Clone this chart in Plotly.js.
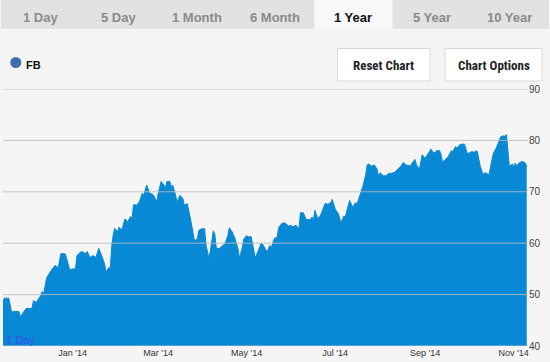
<!DOCTYPE html>
<html><head><meta charset="utf-8">
<script src="https://cdn.plot.ly/plotly-3.0.1.min.js"></script>
<style>html,body{margin:0;padding:0;background:#f5f5f5;}#chart{width:550px;height:362px;}</style>
</head><body><div id="chart"></div>
<script>
const seriesName = "FB";
const dates = [
"2013-11-14","2013-11-15","2013-11-18","2013-11-20","2013-11-21","2013-11-25","2013-11-26","2013-11-28","2013-11-30",
"2013-12-04","2013-12-05","2013-12-07","2013-12-10","2013-12-11","2013-12-12","2013-12-14","2013-12-15","2013-12-18","2013-12-20","2013-12-22","2013-12-24","2013-12-27","2013-12-28","2013-12-30",
"2014-01-01","2014-01-03","2014-01-04","2014-01-07","2014-01-10","2014-01-11","2014-01-13","2014-01-15","2014-01-17","2014-01-19","2014-01-21","2014-01-23","2014-01-24","2014-01-26","2014-01-27","2014-01-28","2014-01-29","2014-01-30",
"2014-02-01","2014-02-02","2014-02-04","2014-02-06","2014-02-08","2014-02-10","2014-02-11","2014-02-12","2014-02-14","2014-02-16","2014-02-18","2014-02-19","2014-02-21","2014-02-22","2014-02-23","2014-02-26","2014-02-28",
"2014-03-01","2014-03-03","2014-03-05","2014-03-06","2014-03-07","2014-03-09","2014-03-10","2014-03-11","2014-03-13","2014-03-14","2014-03-16","2014-03-18","2014-03-19","2014-03-21","2014-03-23","2014-03-25","2014-03-26","2014-03-28","2014-03-29","2014-03-31",
"2014-04-02","2014-04-03","2014-04-05","2014-04-06","2014-04-08","2014-04-09","2014-04-10","2014-04-12","2014-04-14","2014-04-16","2014-04-18","2014-04-19","2014-04-21","2014-04-23","2014-04-25","2014-04-26","2014-04-28","2014-04-29",
"2014-05-01","2014-05-02","2014-05-04","2014-05-06","2014-05-07","2014-05-09","2014-05-11","2014-05-12","2014-05-15","2014-05-17","2014-05-18","2014-05-20","2014-05-22","2014-05-23","2014-05-25","2014-05-27","2014-05-30","2014-05-31",
"2014-06-02","2014-06-04","2014-06-06","2014-06-07","2014-06-09","2014-06-11","2014-06-14","2014-06-15","2014-06-16","2014-06-17","2014-06-19","2014-06-21","2014-06-23","2014-06-24","2014-06-26","2014-06-28","2014-06-29",
"2014-07-01","2014-07-03","2014-07-05","2014-07-07","2014-07-08","2014-07-10","2014-07-11","2014-07-13","2014-07-15","2014-07-16","2014-07-18","2014-07-19","2014-07-20","2014-07-22","2014-07-23","2014-07-24","2014-07-26","2014-07-28","2014-07-30","2014-07-31",
"2014-08-01","2014-08-03","2014-08-05","2014-08-07","2014-08-09","2014-08-11","2014-08-13","2014-08-15","2014-08-17","2014-08-19","2014-08-22","2014-08-23","2014-08-25","2014-08-26","2014-08-28","2014-08-29","2014-08-30",
"2014-09-01","2014-09-02","2014-09-04","2014-09-05","2014-09-07","2014-09-09","2014-09-11","2014-09-12","2014-09-13","2014-09-15","2014-09-17","2014-09-19","2014-09-20","2014-09-22","2014-09-23","2014-09-25","2014-09-27","2014-09-28","2014-09-30",
"2014-10-01","2014-10-03","2014-10-05","2014-10-06","2014-10-07","2014-10-08","2014-10-09","2014-10-11","2014-10-12","2014-10-14","2014-10-15","2014-10-17","2014-10-18","2014-10-20","2014-10-21","2014-10-23","2014-10-25","2014-10-26","2014-10-27","2014-10-28","2014-10-29","2014-10-31",
"2014-11-01","2014-11-02","2014-11-03","2014-11-05","2014-11-07","2014-11-09","2014-11-10"
];
const prices = [
48.8,49.3,49.3,46.5,46.7,46.7,45.7,46.5,47.3,
47.3,48.8,48.5,49.8,50.6,50.1,53.1,53.7,55.0,55.7,55.2,58.0,57.9,56.9,54.8,
55.0,55.0,57.6,58.4,58.0,58.4,57.2,57.6,57.2,59.0,57.6,56.0,54.4,55.3,55.0,59.6,61.6,62.9,
62.2,63.1,62.6,64.7,64.2,65.2,64.8,67.5,67.4,68.0,69.7,69.3,71.3,70.7,69.8,69.3,68.0,
69.7,72.0,71.3,70.7,72.0,72.0,71.0,71.3,69.3,68.0,69.3,68.7,67.4,67.7,65.1,61.5,60.5,60.8,62.5,62.8,
62.8,59.5,57.1,58.6,62.4,61.8,59.1,58.9,59.5,59.9,61.5,63.0,62.2,60.8,58.9,57.1,59.2,60.8,
61.5,61.2,61.3,58.2,57.1,58.6,60.0,59.8,58.3,59.6,59.1,60.9,61.2,63.0,63.8,64.0,63.3,63.5,
63.2,63.5,62.8,65.9,65.9,64.6,64.6,65.1,64.5,66.4,64.7,65.5,66.8,67.7,67.6,67.9,68.5,
66.6,65.8,64.0,65.3,65.1,67.4,68.3,67.0,67.9,67.6,69.2,70.0,71.0,73.3,75.2,75.4,75.0,75.2,74.3,72.8,
73.7,73.1,73.1,73.6,73.6,73.8,74.3,74.9,75.7,75.2,75.0,75.6,76.3,75.2,74.4,75.6,77.2,
76.5,76.9,77.7,78.3,77.5,78.0,78.0,77.2,75.7,76.3,76.9,78.0,77.8,78.8,78.5,79.2,79.3,79.3,77.5,
77.5,77.8,77.7,78.0,77.8,76.3,74.9,73.3,73.7,73.5,73.3,76.2,77.5,78.5,79.2,80.7,80.9,80.8,81.1,78.2,74.9,75.4,
74.8,75.6,75.0,75.7,75.9,75.6,74.9
];
const yTicks = [40, 50, 60, 70, 80, 90];
const tabLabels = ["1 Day", "5 Day", "1 Month", "6 Month", "1 Year", "5 Year", "10 Year"];
const activeTab = "1 Year";
const buttonLabels = ["Reset Chart", "Chart Options"];
const cornerLabel = "1 Day";

// pixel -> paper helpers (plot area: x 3..528, y 89..346)
const L = 3, R = 528, T = 89, B = 346;
const X = px => (px - L) / (R - L);
const Y = py => (B - py) / (B - T);

const FONT = "Liberation Sans, Arial, Helvetica, sans-serif";
const NARROW = "Liberation Sans Narrow, Roboto Condensed, Roboto, Arial, sans-serif";
const fillColor = "#0789d5";

const shapes = [];
const annotations = [];

// tab bar
shapes.push({type:"rect", xref:"paper", yref:"paper", x0:X(1), x1:X(549), y0:Y(0), y1:Y(29),
  fillcolor:"#e2e2e2", line:{width:0}, layer:"below"});
const tabW = 78.3, tabStart = 1;
tabLabels.forEach((t, i) => {
  const cx = tabStart + tabW * (i + 0.5);
  const active = t === activeTab;
  if (active) {
    shapes.push({type:"rect", xref:"paper", yref:"paper", x0:X(tabStart + tabW*i), x1:X(tabStart + tabW*(i+1)),
      y0:Y(0), y1:Y(29), fillcolor:"#f8f8f8", line:{width:0}, layer:"below"});
  }
  annotations.push({xref:"paper", yref:"paper", x:X(cx), y:Y(17), text:"<b>"+t+"</b>", showarrow:false,
    xanchor:"center", yanchor:"middle", font:{family:FONT, size:13, color: active ? "#111111" : "#8a8a8a"}});
});

// legend dot + name
shapes.push({type:"circle", xref:"paper", yref:"paper", x0:X(10.3), x1:X(21.3), y0:Y(57), y1:Y(68),
  fillcolor:"#3e6db3", line:{width:0}});
annotations.push({xref:"paper", yref:"paper", x:X(24), y:Y(65), text:"<b>"+seriesName+"</b>", showarrow:false,
  xanchor:"left", yanchor:"middle", font:{family:FONT, size:11, color:"#111"}});

// buttons
const btns = [[337.5, 430], [445, 542]];
buttonLabels.forEach((b, i) => {
  const [a, c] = btns[i];
  shapes.push({type:"rect", xref:"paper", yref:"paper", x0:X(a), x1:X(c), y0:Y(48.5), y1:Y(81),
    fillcolor:"#ffffff", line:{color:"#d8d8d8", width:1}});
  annotations.push({xref:"paper", yref:"paper", x:X((a+c)/2), y:Y(65), text:"<b>"+b+"</b>", showarrow:false,
    xanchor:"center", yanchor:"middle", font:{family:NARROW, size:13, color:"#222"}});
});

// grid lines on top of the fill
yTicks.forEach(v => {
  shapes.push({type:"line", xref:"paper", yref:"y", x0:0, x1:1, y0:v, y1:v,
    line:{color:"rgba(188,188,188,0.85)", width:1}, layer:"above"});
});

annotations.push({xref:"paper", yref:"paper", x:X(4), y:Y(340), text:cornerLabel, showarrow:false,
  xanchor:"left", yanchor:"middle", font:{family:FONT, size:11, color:"rgba(70,60,240,0.85)"}});

const trace = {
  x: dates, y: prices, type:"scatter", mode:"lines", name: seriesName,
  fill:"tozeroy", fillcolor: fillColor, line:{color: fillColor, width:1}, hoverinfo:"skip"
};

const layout = {
  width:550, height:362,
  margin:{l:L, r:550-R, t:T, b:362-B, pad:0},
  paper_bgcolor:"#f5f5f5", plot_bgcolor:"#f5f5f5",
  showlegend:false, hovermode:false,
  xaxis:{type:"date", range:["2013-11-14 00:45","2014-11-10 20:40"], tick0:"2014-01-01", dtick:"M2",
    tickformat:"%b '%y", showgrid:false, zeroline:false, showline:false, ticks:"",
    tickfont:{family:FONT, size:9, color:"#333"}},
  yaxis:{range:[40,90], side:"right", tickvals:yTicks, showgrid:false, zeroline:false, showline:false,
    ticks:"", tickfont:{family:FONT, size:10, color:"#444"}},
  shapes: shapes, annotations: annotations
};

Plotly.newPlot("chart", [trace], layout, {staticPlot:true, displayModeBar:false});
</script></body></html>
